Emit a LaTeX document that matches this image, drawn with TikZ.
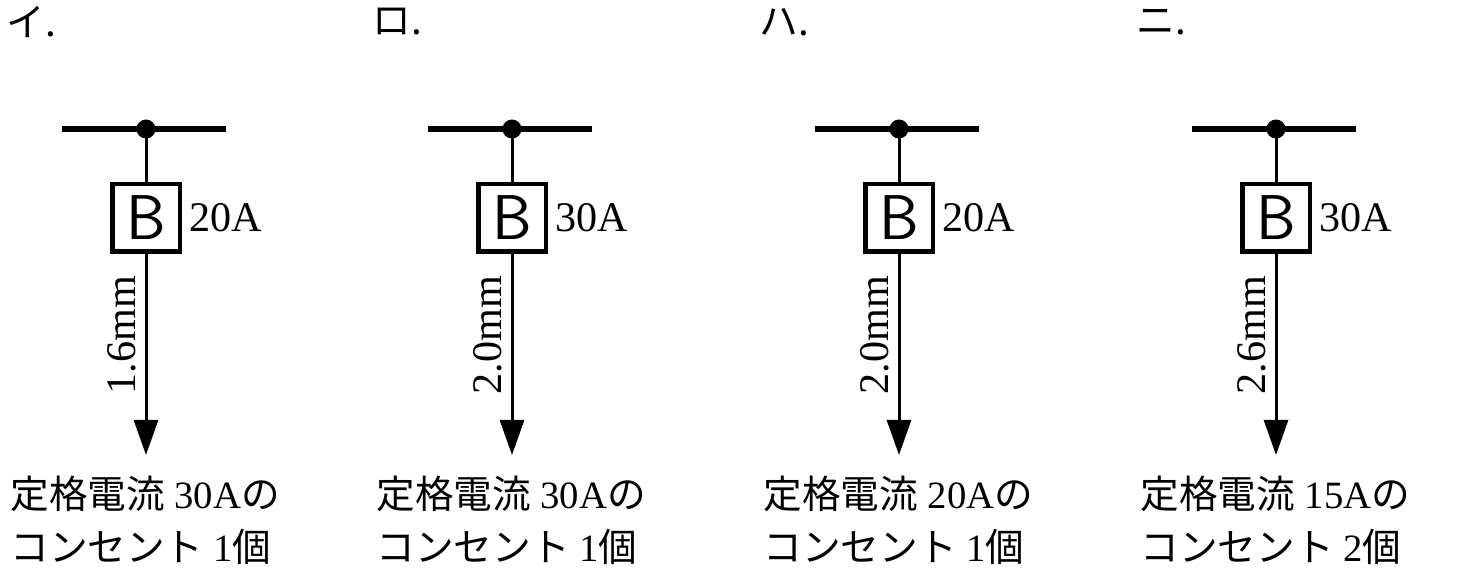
\documentclass[tikz,border=0pt]{standalone}
\usepackage{fontspec}
\setmainfont{Liberation Serif}
\newfontfamily\cjk{Noto Sans CJK JP}
\usetikzlibrary{arrows.meta, positioning}
\tikzset{
  bus/.style={line width=1.2mm},
  wire/.style={line width=0.6mm},
  brk/.style={draw, line width=0.9mm, minimum width=1.35cm, minimum height=1.35cm, inner sep=0pt, font=\fontsize{36}{36}\sffamily},
  lbl/.style={font=\fontsize{24}{24}\selectfont, inner sep=1pt},
  outlet/.style={-{Triangle[length=7mm,width=4.8mm]}, wire},
  desc/.style={font=\fontsize{22}{30}\selectfont, align=left, anchor=north west, inner sep=0pt},
}
\begin{document}
\begin{tikzpicture}[x=0.2mm, y=-0.2mm]
\useasboundingbox (0,0) rectangle (1471,577);
\foreach \n/\x/\h/\amp/\dia/\cur/\num in {a/146/イ/20A/1.6mm/30A/1, b/512/ロ/30A/2.0mm/30A/1, c/899/ハ/20A/2.0mm/20A/1, d/1276/ニ/30A/2.6mm/15A/2}{
  % heading
  \node (head\n) [anchor=west, font=\cjk\fontsize{22}{22}\selectfont, inner sep=0pt] at (\x-140,22) {\h.};
  % bus and branch
  \coordinate (l\n) at (\x-84,129);
  \coordinate (r\n) at (\x+80,129);
  \coordinate (j\n) at (\x,129);
  \draw [bus] (l\n) -- (r\n);
  \fill (j\n) circle (1.9mm);
  \node (br\n) [brk] at (\x,218) {B};
  \node (amp\n) [lbl, right=1mm of br\n] {\amp};
  \coordinate (tip\n) at (\x,455);
  \draw [wire] (j\n) -- (br\n);
  \draw [outlet] (br\n) -- (tip\n);
  \node (dia\n) [lbl, rotate=90] at (\x-24,335) {\dia};
  % outlet text
  \node (txt\n) [desc] at (\x-136,476) {{\cjk 定格電流} \cur{\cjk の}\\{\cjk コンセント} \num{\cjk 個}};
}
\end{tikzpicture}
\end{document}
